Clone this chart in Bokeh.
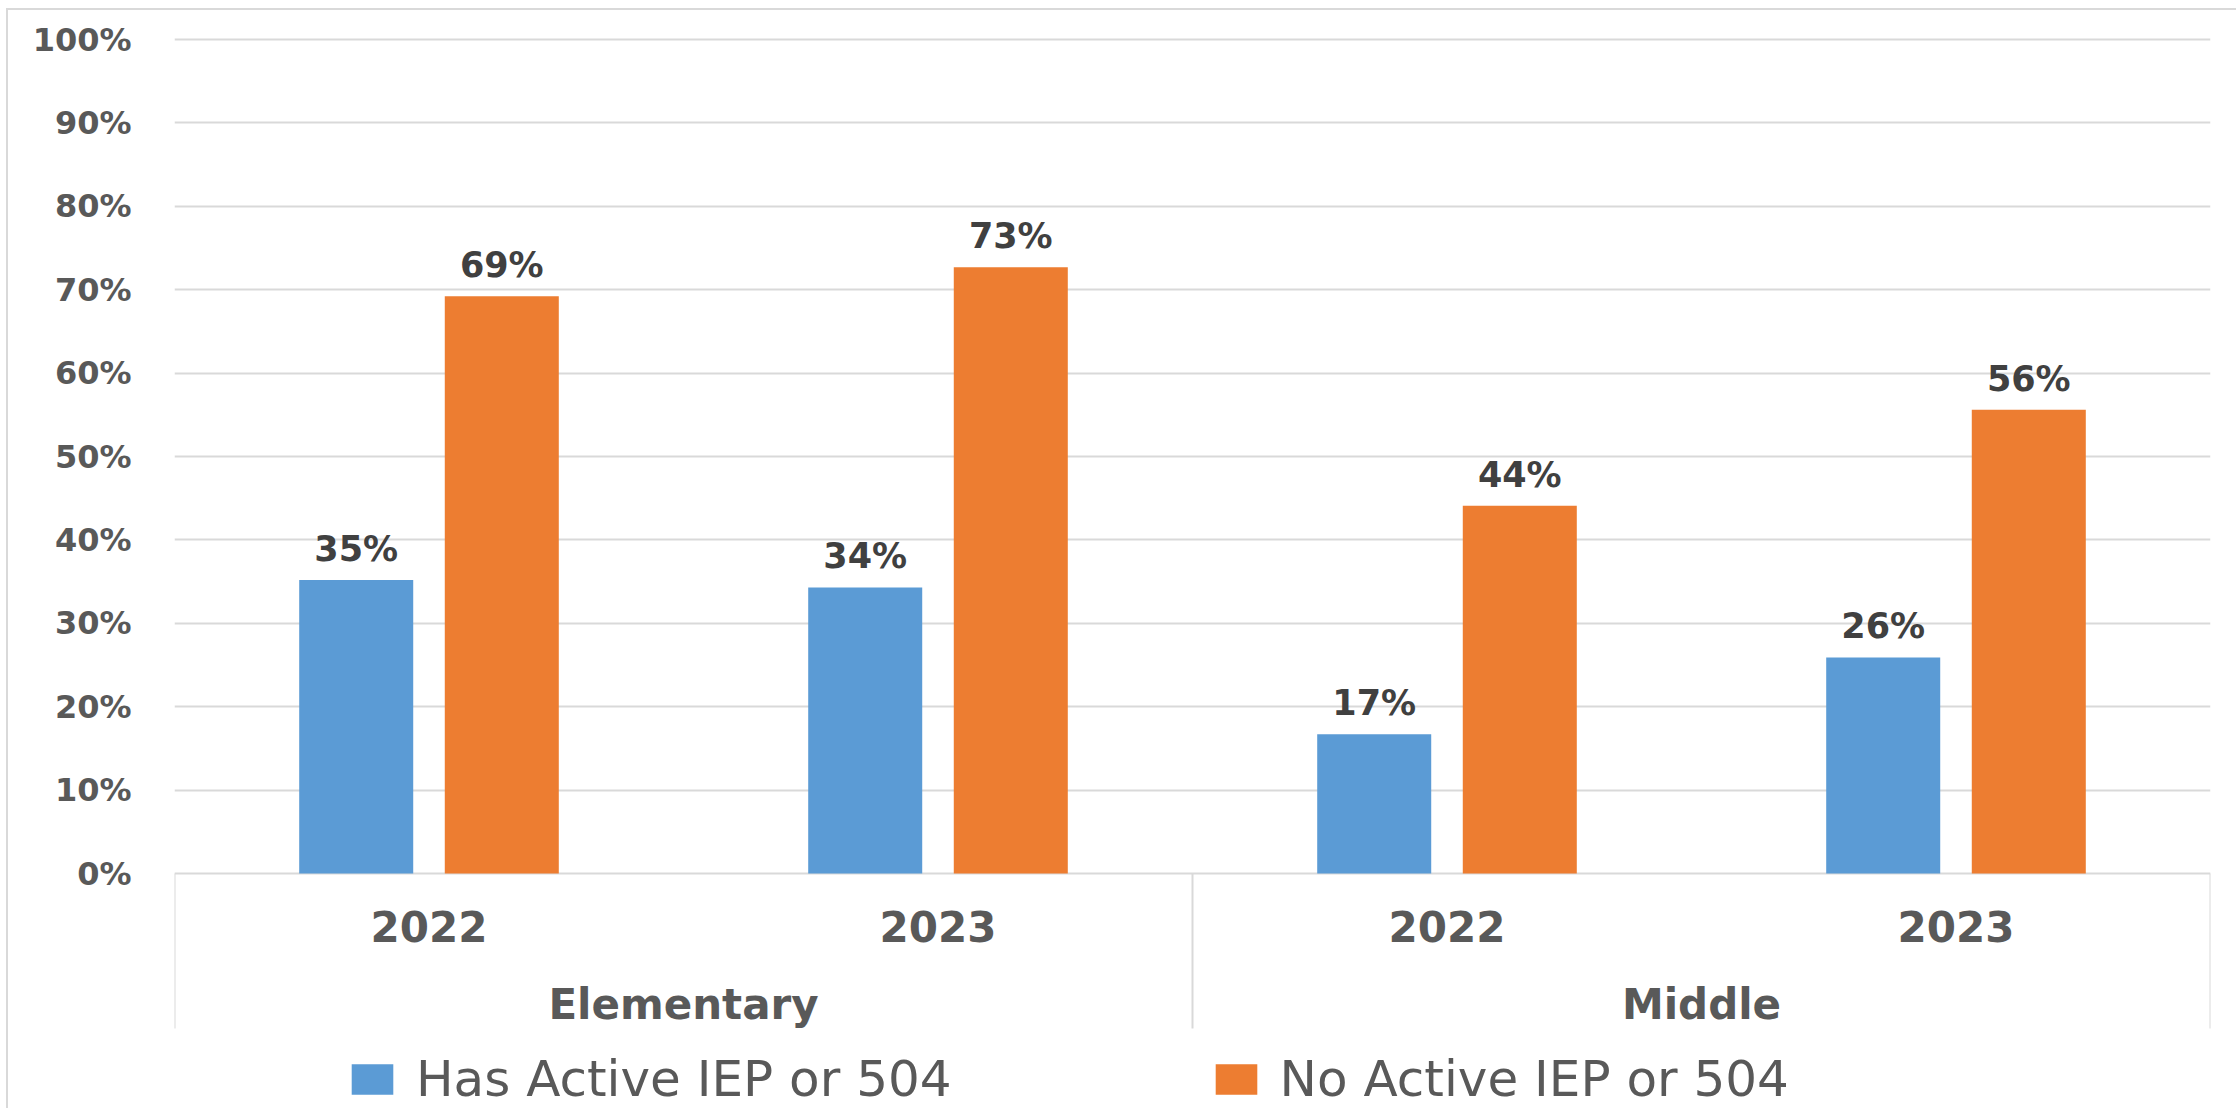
from bokeh.plotting import figure
from bokeh.models import (ColumnDataSource, FactorRange, FixedTicker, PrintfTickFormatter,
                          Legend, LegendItem, Range1d)
from bokeh.transform import dodge
from bokeh.core.properties import value
from bokeh.embed import file_html
from bokeh.resources import INLINE

# ---------------- data ----------------
levels = ["Elementary", "Elementary", "Middle", "Middle"]
years = ["2022", "2023", "2022", "2023"]
has_iep = [35.2, 34.3, 16.7, 25.9]
no_iep = [69.2, 72.7, 44.1, 55.6]
series_names = ["Has Active IEP or 504", "No Active IEP or 504"]
y_ticks = [0, 10, 20, 30, 40, 50, 60, 70, 80, 90, 100]
groups = ["Elementary", "Middle"]

# ---------------- layout constants (figure pixels) ----------------
W, H = 2230, 1100
B_LEFT, B_RIGHT, B_TOP, B_BOTTOM = 166, 28, 8, 0
Y0_PX, Y100_PX = 863, 29            # figure-pixel rows for 0% and 100%
PPU = (Y0_PX - Y100_PX) / 100.0     # pixels per percent
Y_END = 100 + (Y100_PX - B_TOP) / PPU
Y_START = -(H - B_BOTTOM - Y0_PX) / PPU

BLUE = "#5B9BD5"
ORANGE = "#ED7D31"
GRID = "#D9D9D9"
TXT = "#595959"
LBL = "#404040"
FONT = value("DejaVu Sans")

factors = list(zip(levels, years))

p = figure(width=W, height=H, x_range=FactorRange(*factors, range_padding=0, group_padding=0,
                                                  factor_padding=0),
           y_range=Range1d(Y_START, Y_END), x_axis_location=None,
           output_backend="svg", toolbar_location=None,
           min_border_left=B_LEFT, min_border_right=B_RIGHT,
           min_border_top=B_TOP, min_border_bottom=B_BOTTOM)
p.styles = {"margin-left": "6px", "margin-top": "8px",
            "border-left": "2px solid #D9D9D9", "border-top": "2px solid #D9D9D9"}
p.outline_line_color = None
p.background_fill_color = "white"
p.border_fill_color = "white"

# y axis
p.yaxis.ticker = FixedTicker(ticks=y_ticks)
p.yaxis.formatter = PrintfTickFormatter(format="%d%%")
p.yaxis.axis_line_color = None
p.yaxis.major_tick_line_color = None
p.yaxis.minor_tick_line_color = None
p.yaxis.major_tick_out = 0
p.yaxis.major_tick_in = 0
p.yaxis.major_label_standoff = 43
p.yaxis.major_label_text_font = "DejaVu Sans"
p.yaxis.major_label_text_font_style = "bold"
p.yaxis.major_label_text_font_size = "32px"
p.yaxis.major_label_text_color = TXT
for g in p.grid:
    if g.dimension == 0:
        g.visible = False
    else:
        g.grid_line_color = GRID
        g.grid_line_width = 2

src = ColumnDataSource(dict(
    x=factors, has=has_iep, no=no_iep,
    has_lbl=["%d%%" % round(v) for v in has_iep],
    no_lbl=["%d%%" % round(v) for v in no_iep],
    year=years, zero=[0] * len(factors),
))

OFF = 0.143
BW = 0.224
r1 = p.vbar(x=dodge("x", -OFF, range=p.x_range), top="has", width=BW, source=src,
            fill_color=BLUE, line_color=None)
r2 = p.vbar(x=dodge("x", OFF, range=p.x_range), top="no", width=BW, source=src,
            fill_color=ORANGE, line_color=None)

# data labels
for off, col, lab in [(-OFF, "has", "has_lbl"), (OFF, "no", "no_lbl")]:
    p.text(x=dodge("x", off, range=p.x_range), y=col, text=lab, source=src,
           text_align="center", text_baseline="middle", y_offset=-31,
           text_font=FONT, text_font_style="bold", text_font_size="35px",
           text_color=LBL)

# category labels (years)
p.text(x="x", y="zero", text="year", source=src, text_align="center",
       text_baseline="middle", y_offset=53, text_font=FONT, text_font_style="bold",
       text_font_size="42px", text_color=TXT)

# group labels
gsrc = ColumnDataSource(dict(x=groups, zero=[0] * len(groups), text=groups))
p.text(x="x", y="zero", text="text", source=gsrc, text_align="center",
       text_baseline="middle", y_offset=131, text_font=FONT, text_font_style="bold",
       text_font_size="42px", text_color=TXT)

# category box separators
SEP_BOTTOM = -155 / PPU
p.segment(x0=dodge("x", -1.0, range=p.x_range), x1=dodge("x", -1.0, range=p.x_range),
          y0="zero", y1="bot", source=ColumnDataSource(dict(x=groups, zero=[0, 0],
                                                            bot=[SEP_BOTTOM] * 2)),
          line_color=GRID, line_width=2)
p.segment(x0=dodge("x", 1.0, range=p.x_range), x1=dodge("x", 1.0, range=p.x_range),
          y0="zero", y1="bot", source=ColumnDataSource(dict(x=groups[-1:], zero=[0],
                                                            bot=[SEP_BOTTOM])),
          line_color=GRID, line_width=2)

legend = Legend(items=[LegendItem(label=series_names[0], renderers=[r1]),
                       LegendItem(label=series_names[1], renderers=[r2])],
                orientation="horizontal", location=(172, 2),
                glyph_width=52, glyph_height=38, label_standoff=18, spacing=258,
                padding=0, margin=0, border_line_color=None, background_fill_alpha=0,
                label_text_font="DejaVu Sans", label_text_font_size="50px",
                label_text_color=TXT)
p.add_layout(legend)

open("out.html", "w").write(file_html(p, INLINE))
